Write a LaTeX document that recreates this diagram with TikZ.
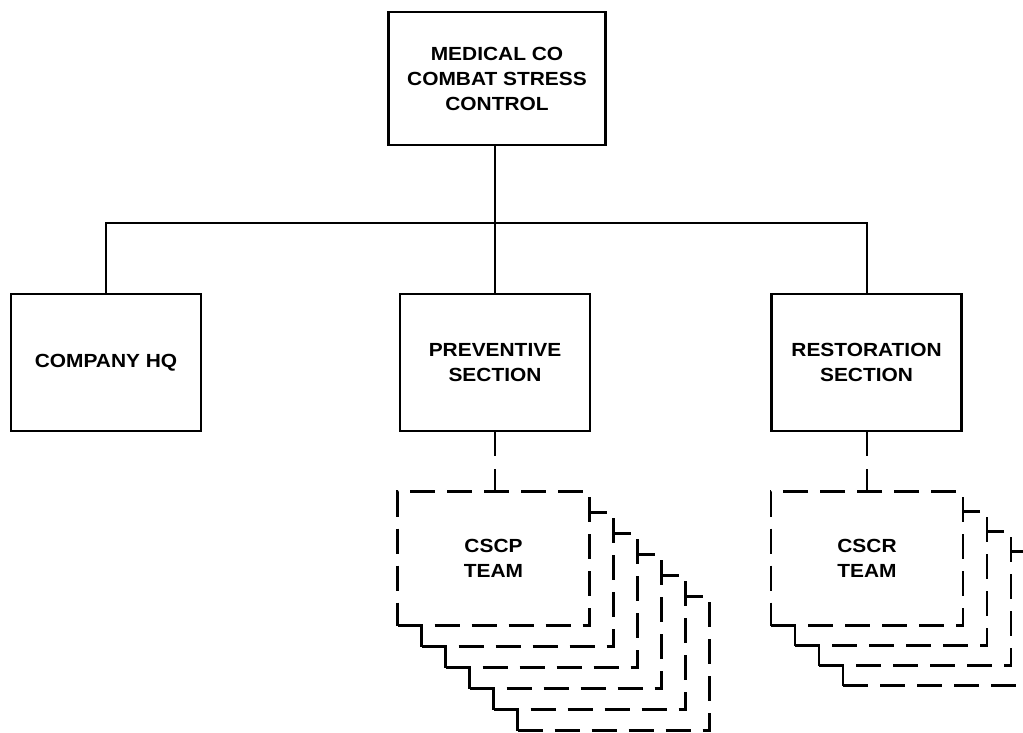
\documentclass[tikz,border=0pt]{standalone}
\usepackage{fontspec}
\setmainfont{Liberation Sans}[FakeStretch=1.1]
\usetikzlibrary{positioning}
\tikzset{node distance=2.5cm, % overwritten per node below
every node/.style={ % text of all boxes
font=\fontsize{19pt}{25pt}\selectfont\bfseries,
align=center},
unit/.style={ % solid boxes of the chart
draw, line width=2.2pt,
minimum width=190pt, minimum height=137pt},
teambox/.style={ % dashed boxes of the teams
draw, line width=2.2pt, dash pattern=on 25pt off 12pt,
fill=white, minimum width=192pt, minimum height=134pt},
link/.style={ % connectors
draw, line width=2pt}}

\begin{document}
\begin{tikzpicture}
    \useasboundingbox (0,0) rectangle (1023pt,-732pt);
    \clip (0,0) rectangle (1023pt,-732pt);
    \node[unit, minimum width=217pt, minimum height=133pt] (top) at (497pt,-78.5pt) {MEDICAL CO\\COMBAT STRESS\\CONTROL};
    \node[unit, node distance=284pt, below of=top, xshift=-2pt] (prev) {PREVENTIVE\\SECTION};
    \node[unit, node distance=389pt, left of=prev] (hq) {COMPANY HQ};
    \node[unit, node distance=371.5pt, right of=prev] (rest) {RESTORATION\\SECTION};
    \coordinate[node distance=144.5pt, below of=top] (bus);
    \coordinate[node distance=196pt, below of=prev, xshift=-1.5pt] (cscppos);
    \coordinate[node distance=373.5pt, right of=cscppos] (cscrpos);
    % stacked teams, back to front
    \foreach \i in {5,...,1}
        \node[teambox] (cscp\i) at ([shift={(24*\i pt,-21*\i pt)}]cscppos) {};
    \node[teambox] (cscp) at (cscppos) {CSCP\\TEAM};
    \foreach \i in {3,...,1}
        \node[teambox] (cscr\i) at ([shift={(24*\i pt,-20*\i pt)}]cscrpos) {};
    \node[teambox] (cscr) at (cscrpos) {CSCR\\TEAM};
    \draw[link] (top.south -| prev.north) -- (prev.north);
    \draw[link] (hq.north) |- (bus) -| (rest.north);
    \draw[link, dash pattern=on 24pt off 13pt] (prev.south) -- (prev.south |- cscp.north);
    \draw[link, dash pattern=on 24pt off 13pt] (rest.south) -- (rest.south |- cscr.north);
\end{tikzpicture}
\end{document}
